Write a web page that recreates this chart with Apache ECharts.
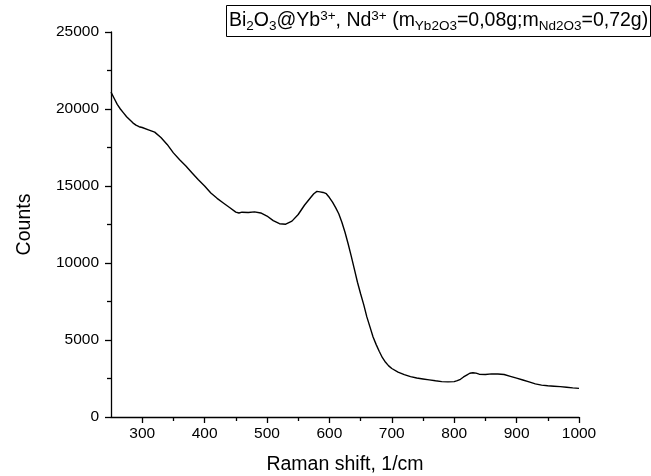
<!DOCTYPE html>
<html>
<head>
<meta charset="utf-8">
<script src="https://cdn.jsdelivr.net/npm/echarts@6/dist/echarts.min.js"></script>
<style>html,body{margin:0;padding:0;background:#fff;}#c{width:651px;height:476px;}</style>
</head>
<body>
<div id="c"></div>
<script>
var ramanShift = [250,255,260,265,270,275,280,285,290,295,300,310,320,330,340,350,360,370,380,390,400,410,420,430,440,450,455,460,470,480,490,500,510,520,530,540,550,560,570,575,580,585,590,595,600,605,610,615,620,625,630,635,640,645,650,655,660,665,670,675,680,685,690,695,700,710,720,730,740,750,760,770,780,790,800,805,810,815,820,825,830,835,840,850,860,870,880,890,900,910,920,930,940,950,960,970,980,990,1000];
var counts = [21100,20700,20300,20000,19750,19500,19300,19100,18950,18850,18800,18650,18500,18150,17700,17150,16700,16300,15850,15400,15000,14550,14200,13900,13600,13300,13250,13300,13280,13320,13250,13050,12750,12550,12520,12720,13150,13750,14250,14500,14650,14620,14580,14500,14250,13950,13600,13200,12650,12000,11250,10450,9600,8750,8000,7300,6500,5850,5200,4700,4250,3850,3550,3320,3150,2920,2750,2620,2530,2470,2410,2350,2300,2280,2300,2360,2450,2600,2720,2840,2870,2850,2780,2760,2800,2790,2760,2640,2520,2400,2280,2150,2070,2030,2000,1970,1930,1890,1860];
var xMajorTicks = [300,400,500,600,700,800,900,1000];
var xMinorTicks = [350,450,550,650,750,850,950];
var yTicks = [0,5000,10000,15000,20000,25000];

var FONT = 'Liberation Sans, Arial, sans-serif';
var chart = echarts.init(document.getElementById('c'), null, {renderer:'canvas'});
var data = ramanShift.map(function(x,i){return [x, counts[i]];});
chart.setOption({
  animation:false,
  backgroundColor:'#fff',
  title:{
    left:226, top:5,
    borderColor:'#000', borderWidth:1,
    padding:[4,3,4,3],
    text:'{m|Bi}{sub|2}{m|O}{sub|3}{m|@Yb}{sup|3+}{m|, Nd}{sup|3+}{m| (m}{sub|Yb2O3}{m|=0,08g;m}{sub|Nd2O3}{m|=0,72g)}',
    textStyle:{
      fontFamily:FONT, fontSize:19.5, color:'#000', fontWeight:'normal',
      rich:{
        m:{fontFamily:FONT, fontSize:19.5, color:'#000', lineHeight:24, verticalAlign:'middle'},
        sub:{fontFamily:FONT, fontSize:13.5, color:'#000', lineHeight:13, verticalAlign:'bottom'},
        sup:{fontFamily:FONT, fontSize:13.5, color:'#000', lineHeight:13, verticalAlign:'top'}
      }
    }
  },
  grid:{left:111, right:72, top:32, bottom:59, containLabel:false, outerBoundsMode:'none'},
  xAxis:[{
    type:'value', min:250, max:1000, interval:50,
    name:'Raman shift, 1/cm', nameLocation:'middle', nameGap:38,
    nameTextStyle:{fontFamily:FONT, fontSize:19.5, color:'#000'},
    axisLine:{show:true, onZero:false, lineStyle:{color:'#000', width:1.3}},
    axisTick:{show:true, inside:false, length:6, customValues:xMajorTicks, lineStyle:{color:'#000', width:1.3}},
    axisLabel:{show:true, customValues:xMajorTicks, fontFamily:FONT, fontSize:15.5, color:'#000', margin:9,
      formatter:function(v){return String(v);}},
    splitLine:{show:false}
  },{
    type:'value', min:250, max:1000, interval:50, position:'bottom',
    axisLine:{show:false},
    axisTick:{show:true, inside:false, length:4, customValues:xMinorTicks, lineStyle:{color:'#000', width:1.3}},
    axisLabel:{show:false},
    splitLine:{show:false}
  }],
  yAxis:{
    type:'value', min:0, max:25000, interval:5000,
    name:'Counts', nameLocation:'middle', nameGap:76, nameRotate:90,
    nameTextStyle:{fontFamily:FONT, fontSize:19.5, color:'#000'},
    axisLine:{show:true, onZero:false, lineStyle:{color:'#000', width:1.3}},
    axisTick:{show:true, inside:false, length:6, lineStyle:{color:'#000', width:1.3}},
    minorTick:{show:true, splitNumber:2, length:4, lineStyle:{color:'#000', width:1.3}},
    axisLabel:{fontFamily:FONT, fontSize:15.5, color:'#000', margin:12,
      formatter:function(v){return String(v);}},
    splitLine:{show:false}
  },
  series:[{
    type:'line', data:data, xAxisIndex:0, showSymbol:false, symbol:'none',
    lineStyle:{color:'#000', width:1.4}, smooth:false
  }]
});
</script>
</body>
</html>
